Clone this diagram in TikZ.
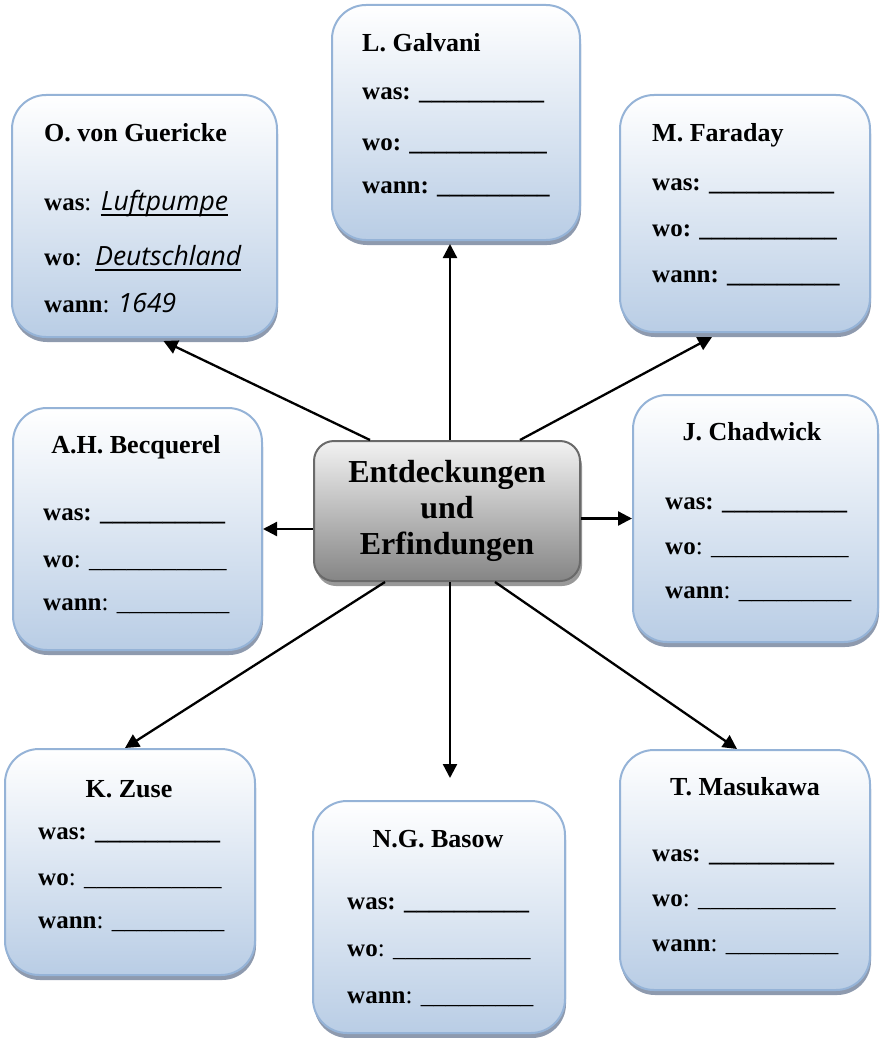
\documentclass[tikz,border=0pt]{standalone}
\usepackage{fontspec}
\setmainfont{Liberation Serif}
\newfontfamily\handfont{Open Sans}
\usetikzlibrary{arrows.meta,shadows}
\definecolor{Frame}{HTML}{95B3D7}
\definecolor{Ice}{HTML}{B9CDE5}
\definecolor{Dusk}{HTML}{8E9AAE}
\definecolor{Slate}{HTML}{6A6A6A}
\definecolor{Stone}{HTML}{858585}
\newcommand{\handit}{\handfont\itshape\fontsize{26.5}{30}\selectfont}
\newcommand{\uline}[1]{\tikz[baseline=(w.base)]{\node[inner sep=0pt] (w) {#1};
  \draw[line width=1.8pt] ([yshift=-5pt]w.base west) -- ([yshift=-5pt]w.base east);}}
\newcommand{\blankwas}{\_\_\_\_\_\_\_\_\_\_}
\newcommand{\blankwo}{\_\_\_\_\_\_\_\_\_\_\_}
\newcommand{\blankwann}{\_\_\_\_\_\_\_\_\_}
\newcommand{\infobox}[5]{%
  \node[card,minimum width=#4pt,minimum height=#5pt] (#1) at (#2,#3) {};}

\begin{document}
\begin{tikzpicture}[x=1pt,y=-1pt,
    card/.style={draw=Frame,line width=2pt,rounded corners=34pt,top color=white,bottom color=Ice,
      drop shadow={shadow xshift=1pt,shadow yshift=-5pt,fill=Dusk,opacity=1}},
    hub/.style={draw=Slate,line width=2pt,rounded corners=20pt,top color=black!5,bottom color=Stone,
      drop shadow={shadow xshift=2pt,shadow yshift=-5pt,fill=black!40,opacity=1},
      align=center,font=\fontsize{32}{36}\selectfont\bfseries},
    title/.style={font=\fontsize{26}{30}\selectfont\bfseries,inner sep=0pt},
    entry/.style={font=\fontsize{25}{30}\selectfont,inner sep=0pt,anchor=base west},
    link/.style={-{Triangle[length=14pt,width=14pt]},line width=2.3pt}]
  \useasboundingbox (0,0) rectangle (882,1038);

  % boxes
  \infobox{gue}{144.5}{216}{265}{242}
  \infobox{gal}{456}{122.5}{248}{235}
  \infobox{far}{745}{213.5}{250}{237}
  \infobox{bec}{137.5}{529}{249}{242}
  \infobox{cha}{755.5}{518.5}{245}{247}
  \infobox{zus}{130}{862}{250}{226}
  \infobox{bas}{439}{917}{252}{232}
  \infobox{mas}{745}{870}{250}{240}
  \node[hub,minimum width=266pt,minimum height=140pt] (hub) at (447,511)
    {Entdeckungen\\und\\Erfindungen};

  % O. von Guericke
  \node[title,anchor=base west] (gue-t) at (44,142) {O. von Guericke};
  \node[entry] (gue-a) at (44,210) {\textbf{was}: \uline{\handit Luftpumpe}};
  \node[entry] (gue-b) at (44,265) {\textbf{wo}:\ \ \uline{\handit Deutschland}};
  \node[entry] (gue-c) at (44,312) {\textbf{wann}: {\handit 1649}};

  % L. Galvani
  \node[title,anchor=base west] (gal-t) at (362,52) {L. Galvani};
  \node[entry] (gal-a) at (362,100) {\textbf{was: \blankwas}};
  \node[entry] (gal-b) at (362,150) {\textbf{wo: \blankwo}};
  \node[entry] (gal-c) at (362,193) {\textbf{wann: \blankwann}};

  % M. Faraday
  \node[title,anchor=base west] (far-t) at (652,142) {M. Faraday};
  \node[entry] (far-a) at (652,190) {\textbf{was: \blankwas}};
  \node[entry] (far-b) at (652,236) {\textbf{wo: \blankwo}};
  \node[entry] (far-c) at (652,282) {\textbf{wann: \blankwann}};

  % A.H. Becquerel
  \node[title,anchor=base] (bec-t) at (136,453) {A.H. Becquerel};
  \node[entry] (bec-a) at (43,520) {\textbf{was: \blankwas}};
  \node[entry] (bec-b) at (43,567) {\textbf{wo}: \blankwo};
  \node[entry] (bec-c) at (43,610) {\textbf{wann}: \blankwann};

  % J. Chadwick
  \node[title,anchor=base] (cha-t) at (752,440) {J. Chadwick};
  \node[entry] (cha-a) at (665,509) {\textbf{was: \blankwas}};
  \node[entry] (cha-b) at (665,554) {\textbf{wo}: \blankwo};
  \node[entry] (cha-c) at (665,598) {\textbf{wann}: \blankwann};

  % K. Zuse
  \node[title,anchor=base] (zus-t) at (129,797) {K. Zuse};
  \node[entry] (zus-a) at (38,839) {\textbf{was: \blankwas}};
  \node[entry] (zus-b) at (38,885) {\textbf{wo}: \blankwo};
  \node[entry] (zus-c) at (38,928) {\textbf{wann}: \blankwann};

  % N.G. Basow
  \node[title,anchor=base] (bas-t) at (438,847) {N.G. Basow};
  \node[entry] (bas-a) at (347,909) {\textbf{was: \blankwas}};
  \node[entry] (bas-b) at (347,956) {\textbf{wo}: \blankwo};
  \node[entry] (bas-c) at (347,1003) {\textbf{wann}: \blankwann};

  % T. Masukawa
  \node[title,anchor=base] (mas-t) at (745,795) {T. Masukawa};
  \node[entry] (mas-a) at (652,861) {\textbf{was: \blankwas}};
  \node[entry] (mas-b) at (652,906) {\textbf{wo}: \blankwo};
  \node[entry] (mas-c) at (652,951) {\textbf{wann}: \blankwann};

  % arrows
  \coordinate (bas-tip) at (450,778);
  \draw[link] ([xshift=-77pt]hub.north) -- ([xshift=19pt,yshift=-3pt]gue.south);
  \draw[link] ([xshift=3pt]hub.north) -- ([xshift=-6pt,yshift=-3pt]gal.south);
  \draw[link] ([xshift=73pt]hub.north) -- ([xshift=-33pt,yshift=-4pt]far.south);
  \draw[link] (hub.west |- bec.east) -- (bec.east);
  \draw[link] (hub.east |- cha.west) -- (cha.west);
  \draw[link] ([xshift=-62pt]hub.south) -- ([xshift=-5pt]zus.north);
  \draw[link] ([xshift=3pt]hub.south) -- (bas-tip);
  \draw[link] ([xshift=48pt]hub.south) -- ([xshift=-8pt]mas.north);
\end{tikzpicture}
\end{document}
